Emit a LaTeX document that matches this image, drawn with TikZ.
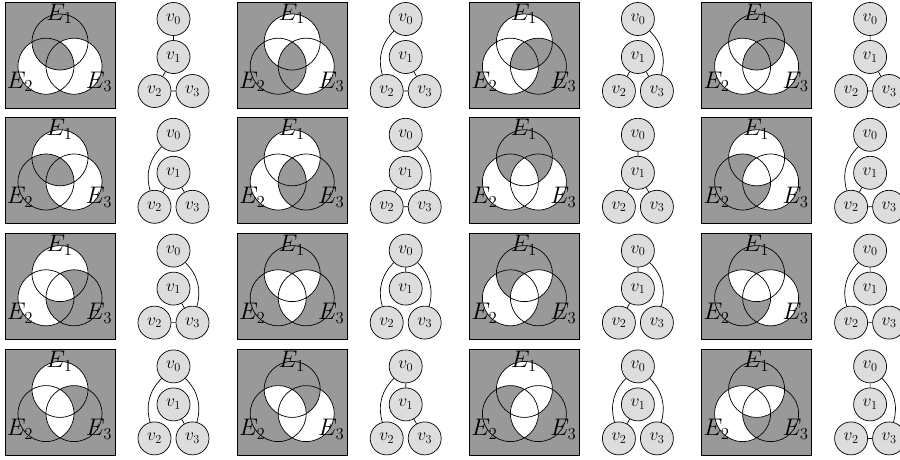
\documentclass[tikz,border=0pt]{standalone}
\usepackage{fix-cm}
\definecolor{venngray}{RGB}{153,153,153}
\definecolor{nodegray}{RGB}{221,221,221}
\tikzset{
  vnode/.style={circle,draw=black,fill=nodegray,line width=0.7pt,minimum size=33pt,inner sep=0pt,font=\fontsize{17.5}{20}\selectfont},
  tedge/.style={draw=black,line width=0.7pt},
  elabel/.style={inner sep=0pt,anchor=base,font=\fontsize{24}{28}\selectfont},
  vcirc/.style={draw=black,line width=0.7pt},
  boxline/.style={draw=black,line width=0.9pt},
}
% white regions (painted in order: singletons, pairs, triple)
\newcommand\rsing[3]{\begin{scope}\clip (#1) circle[radius=28pt];
  \fill[white] (#1) circle[radius=29pt];
  \fill[venngray] (#2) circle[radius=28pt] (#3) circle[radius=28pt];\end{scope}}
\newcommand\rpair[3]{\begin{scope}\clip (#1) circle[radius=28pt];\clip (#2) circle[radius=28pt];
  \fill[white] (#1) circle[radius=29pt];
  \fill[venngray] (#3) circle[radius=28pt];\end{scope}}
\newcommand\rtrip{\begin{scope}\clip (A) circle[radius=28pt];\clip (B) circle[radius=28pt];\clip (C) circle[radius=28pt];
  \fill[white] (A) circle[radius=29pt];\end{scope}}
\newcommand\wI{\rsing{A}{B}{C}}
\newcommand\wII{\rsing{B}{A}{C}}
\newcommand\wIII{\rsing{C}{A}{B}}
\newcommand\wIandII{\rpair{A}{B}{C}}
\newcommand\wIandIII{\rpair{A}{C}{B}}
\newcommand\wIIandIII{\rpair{B}{C}{A}}
\newcommand\panelcell[4]{%
 \begin{scope}[shift={(5+232.2*#1,2+115.8*#2)}]
  \fill[venngray] (0,0) rectangle (110,106);
  \coordinate (A) at (55,40);
  \coordinate (B) at (41,64.2);
  \coordinate (C) at (69,64.2);
  #3
  \draw[vcirc] (A) circle[radius=28pt] (B) circle[radius=28pt] (C) circle[radius=28pt];
  \node[elabel] (e1) at (54.5,18) {$E_1$};
  \node[elabel] (e2) at (15,86) {$E_2$};
  \node[elabel] (e3) at (94,86) {$E_3$};
  \draw[boxline] (0,0) rectangle (110,106);
  \node[vnode] (v0) at (168.5,17) {$v_0$};
  \node[vnode] (v1) at (168.5,55) {$v_1$};
  \node[vnode] (v2) at (149.5,89) {$v_2$};
  \node[vnode] (v3) at (187.5,89) {$v_3$};
  \draw[tedge] #4;
 \end{scope}}
\begin{document}
\begin{tikzpicture}[x=1pt,y=-1pt]
\useasboundingbox (0,0) rectangle (900,459);
% row 1
\panelcell{0}{0}{\wII\wIII\wIandIII\wIIandIII}{(v0)--(v1) (v1)--(v2) (v2)--(v3)}
\panelcell{1}{0}{\wI\wIII\wIandII\wIandIII}{(v0) to[bend right=30] (v2) (v2)--(v3) (v1)--(v3)}
\panelcell{2}{0}{\wI\wII\wIandII\wIIandIII}{(v0) to[bend left=30] (v3) (v1)--(v3) (v1)--(v2)}
\panelcell{3}{0}{\wII\wIII\wIandII\wIIandIII}{(v0)--(v1) (v1)--(v3) (v2)--(v3)}
% row 2
\panelcell{0}{1}{\wI\wIII\wIandIII\wIIandIII}{(v0) to[bend right=30] (v2) (v1)--(v2) (v1)--(v3)}
\panelcell{1}{1}{\wI\wII\wIandII\wIandIII}{(v0) to[bend left=30] (v3) (v2)--(v3) (v1)--(v2)}
\panelcell{2}{1}{\wII\wIII\wIIandIII\rtrip}{(v0)--(v1) (v1)--(v2) (v1)--(v3)}
\panelcell{3}{1}{\wI\wIII\wIandIII\rtrip}{(v0) to[bend right=30] (v2) (v1)--(v2) (v2)--(v3)}
% row 3
\panelcell{0}{2}{\wI\wII\wIandII\rtrip}{(v0) to[bend left=30] (v3) (v1)--(v3) (v2)--(v3)}
\panelcell{1}{2}{\wIandII\wIandIII\wIIandIII\rtrip}{(v0)--(v1) (v0) to[bend right=30] (v2) (v0) to[bend left=30] (v3)}
\panelcell{2}{2}{\wII\wIandIII\wIIandIII\rtrip}{(v0) to[bend left=30] (v3) (v0)--(v1) (v1)--(v2)}
\panelcell{3}{2}{\wIII\wIandII\wIandIII\rtrip}{(v0)--(v1) (v0) to[bend right=30] (v2) (v2)--(v3)}
% row 4
\panelcell{0}{3}{\wI\wIandII\wIIandIII\rtrip}{(v0) to[bend right=30] (v2) (v0) to[bend left=30] (v3) (v1)--(v3)}
\panelcell{1}{3}{\wIII\wIandII\wIIandIII\rtrip}{(v0)--(v1) (v0) to[bend right=30] (v2) (v1)--(v3)}
\panelcell{2}{3}{\wI\wIandIII\wIIandIII\rtrip}{(v0) to[bend right=30] (v2) (v0) to[bend left=30] (v3) (v1)--(v2)}
\panelcell{3}{3}{\wII\wIandII\wIandIII\rtrip}{(v0)--(v1) (v0) to[bend left=30] (v3) (v2)--(v3)}
\end{tikzpicture}
\end{document}
